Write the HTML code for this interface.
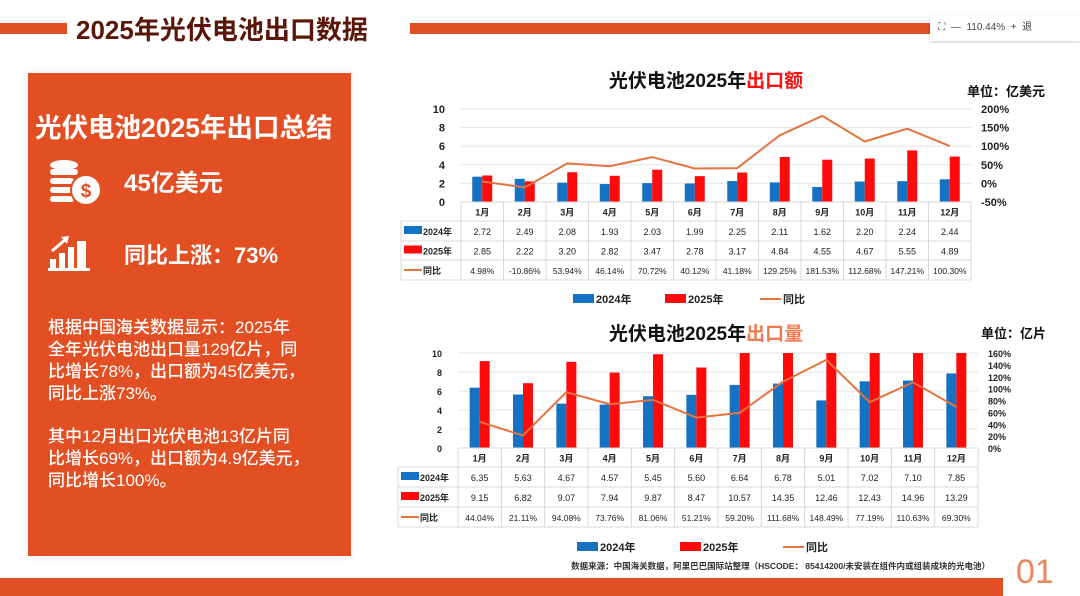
<!DOCTYPE html>
<html><head><meta charset="utf-8">
<style>
html,body{margin:0;padding:0;}
body{width:1080px;height:596px;position:relative;overflow:hidden;background:#fff;font-family:"Liberation Sans","Noto Sans CJK SC",sans-serif;}
.abs{position:absolute;}
.panel{left:28px;top:73px;width:323px;height:483px;background:#e24f23;color:#fff;box-shadow:0 0 14px rgba(0,0,0,0.08);}
.para{left:20px;font-size:17px;line-height:22px;font-weight:500;width:300px;white-space:nowrap;}
</style></head>
<body>
<div class="abs" style="left:0;top:23px;width:67px;height:11px;background:#e24f23"></div>
<div class="abs" style="left:76px;top:10px;font-size:26px;font-weight:bold;color:#5a1608;">2025年光伏电池出口数据</div>
<div class="abs" style="left:410px;top:23px;width:525px;height:11px;background:#e24f23"></div>
<div class="abs" style="left:930px;top:15px;width:150px;height:26px;background:#fff;box-shadow:0 1px 3px rgba(0,0,0,0.2);font-size:10px;color:#444;line-height:26px;">&nbsp;&nbsp;&nbsp;⛶ &nbsp;— &nbsp;110.44% &nbsp;+ &nbsp;退</div>

<div class="abs panel">
  <div class="abs" style="left:7px;top:33px;font-size:26.5px;font-weight:bold;white-space:nowrap;">光伏电池2025年出口总结</div>
  <svg class="abs" style="left:20px;top:86px" width="56" height="50" viewBox="0 0 56 50">
    <ellipse cx="16" cy="6" rx="14" ry="5" fill="#fff"/><rect x="2" y="10" width="28" height="6" rx="3" fill="#fff"/><rect x="2" y="19" width="24" height="6" rx="3" fill="#fff"/><rect x="2" y="28" width="22" height="6" rx="3" fill="#fff"/><rect x="2" y="37" width="24" height="6" rx="3" fill="#fff"/>
    <circle cx="38" cy="31" r="15" fill="#fff" stroke="#e24f23" stroke-width="2"/><text x="38" y="38" font-size="19" font-weight="bold" fill="#e24f23" text-anchor="middle">$</text>
  </svg>
  <div class="abs" style="left:96px;top:90px;font-size:24px;font-weight:bold;">45亿美元</div>
  <svg class="abs" style="left:20px;top:160px" width="44" height="38" viewBox="0 0 44 38">
    <rect x="2" y="26" width="6" height="10" fill="#fff"/><rect x="11" y="20" width="6" height="16" fill="#fff"/><rect x="20" y="14" width="6" height="22" fill="#fff"/><rect x="29" y="8" width="9" height="28" fill="#fff"/><rect x="0" y="35" width="42" height="3" fill="#fff"/>
    <path d="M4 18 L18 6" stroke="#fff" stroke-width="3"/><path d="M13 4 L21 3 L19 11 Z" fill="#fff"/>
  </svg>
  <div class="abs" style="left:96px;top:165px;font-size:22px;font-weight:bold;">同比上涨：73%</div>
  <div class="abs para" style="top:244px;">根据中国海关数据显示：2025年<br>全年光伏电池出口量129亿片，同<br>比增长78%，出口额为45亿美元，<br>同比上涨73%。</div>
  <div class="abs para" style="top:353px;">其中12月出口光伏电池13亿片同<br>比增长69%，出口额为4.9亿美元，<br>同比增长100%。</div>
</div>

<svg class="abs" id="charts" style="left:0;top:0" width="1080" height="596"></svg>

<div class="abs" style="left:1016px;top:553px;font-size:34px;color:#e8865e;font-weight:300;">01</div>
<div class="abs" style="left:0;top:578px;width:1003px;height:18px;background:#e24f23"></div>

<script>
const months = ["1月","2月","3月","4月","5月","6月","7月","8月","9月","10月","11月","12月"];
const value2024 = [2.72,2.49,2.08,1.93,2.03,1.99,2.25,2.11,1.62,2.20,2.24,2.44];
const value2025 = [2.85,2.22,3.20,2.82,3.47,2.78,3.17,4.84,4.55,4.67,5.55,4.89];
const valueYoY = [4.98,-10.86,53.94,46.14,70.72,40.12,41.18,129.25,181.53,112.68,147.21,100.30];
const leftTicksA = [0,2,4,6,8,10];
const rightTicksA = [-50,0,50,100,150,200];
const vol2024 = [6.35,5.63,4.67,4.57,5.45,5.60,6.64,6.78,5.01,7.02,7.10,7.85];
const vol2025 = [9.15,6.82,9.07,7.94,9.87,8.47,10.57,14.35,12.46,12.43,14.96,13.29];
const volYoY = [44.04,21.11,94.08,73.76,81.06,51.21,59.20,111.68,148.49,77.19,110.63,69.30];
const leftTicksB = [0,2,4,6,8,10];
const rightTicksB = [0,20,40,60,80,100,120,140,160];

const NS="http://www.w3.org/2000/svg";
const svg=document.getElementById('charts');
function mk(tag,attrs,parent){const e=document.createElementNS(NS,tag);for(const k in attrs)e.setAttribute(k,attrs[k]);(parent||svg).appendChild(e);return e;}
function txt(x,y,s,attrs,parent){const e=mk('text',Object.assign({x:x,y:y,'font-size':10,fill:'#222','font-family':'Liberation Sans, Noto Sans CJK SC, sans-serif'},attrs||{}),parent);e.textContent=s;return e;}
const BLUE='#1572c2',RED='#ff0a0a',LINE='#e4733f';

function drawChart(o){
  const g=mk('g',{});
  
  
  const n=o.cats.length,step=(o.x1-o.x0)/n;
  const xc=i=>o.x0+step*(i+0.5);
  const yL=v=>o.yb-(v-o.lmin)/(o.lmax-o.lmin)*(o.yb-o.yt);
  const yR=v=>o.yb-(v-o.rmin)/(o.rmax-o.rmin)*(o.yb-o.yt);
  const t=txt(o.titleX,o.titleY,o.title,{'font-size':19,'font-weight':'bold','text-anchor':'middle',fill:'#111'},g);
  const ts=document.createElementNS(NS,'tspan');ts.setAttribute('fill',o.hlColor);ts.textContent=o.hl;t.appendChild(ts);
  
  const u=txt(o.unitX,o.unitY,o.unit,{'font-size':13,'font-weight':'bold','text-anchor':'end',fill:'#111'},g);
  
  o.lt.forEach(v=>{const l=mk('line',{x1:o.x0,x2:o.x1,y1:yL(v),y2:yL(v),stroke:'#e6e6e6','stroke-width':1},g);
    
    const tl=txt(o.x0-16,yL(v)+4,String(v),{'font-size':o.tfs,'text-anchor':'end','font-weight':'bold'},g);
    });
  o.rt.forEach(v=>{const tl=txt(o.x1+10,yR(v)+4,v+'%',{'font-size':o.tfs,'font-weight':'bold'},g);
    });
  const bw=o.bw;
  for(let i=0;i<n;i++){
    const h1=Math.min(o.s1[i],o.lmax),h2=Math.min(o.s2[i],o.lmax);
    const b1=mk('rect',{x:xc(i)-bw,y:yL(h1),width:bw,height:yL(0)-yL(h1),fill:BLUE},g);
    
    const b2=mk('rect',{x:xc(i),y:yL(h2),width:bw,height:yL(0)-yL(h2),fill:RED},g);
    
  }
  const pts=o.s3.map((v,i)=>xc(i)+','+yR(v)).join(' ');
  const pl=mk('polyline',{points:pts,fill:'none',stroke:LINE,'stroke-width':2},g);
  
  const tl0=o.tx;
  const tb=mk('g',{},g);
  const rb=[o.yb].concat(o.rows);
  for(let r=0;r<rb.length;r++){mk('line',{x1:r===0?o.x0:tl0,x2:o.x1,y1:rb[r],y2:rb[r],stroke:'#d8d8d8'},tb);}
  for(let i=0;i<=n;i++){mk('line',{x1:o.x0+step*i,x2:o.x0+step*i,y1:o.yb,y2:rb[rb.length-1],stroke:'#d8d8d8'},tb);}
  mk('line',{x1:tl0,x2:tl0,y1:rb[1],y2:rb[rb.length-1],stroke:'#d8d8d8'},tb);
  const fs=o.cfs;
  for(let i=0;i<n;i++){
    const c=txt(xc(i),(rb[0]+rb[1])/2+4,o.cats[i],{'font-size':fs,'text-anchor':'middle','font-weight':'bold'},tb);
    
    const a=txt(xc(i),(rb[1]+rb[2])/2+4,o.s1[i].toFixed(2),{'font-size':fs,'text-anchor':'middle'},tb);
    
    const b=txt(xc(i),(rb[2]+rb[3])/2+4,o.s2[i].toFixed(2),{'font-size':fs,'text-anchor':'middle'},tb);
    
    const c2=txt(xc(i),(rb[3]+rb[4])/2+4,o.s3[i].toFixed(2)+'%',{'font-size':fs-0.5,'text-anchor':'middle'},tb);
    
  }
  const labs=[['2024年',BLUE,'rect'],['2025年',RED,'rect'],['同比',LINE,'line']];
  labs.forEach((L,k)=>{const ym=(rb[k+1]+rb[k+2])/2;
    if(L[2]==='rect')mk('rect',{x:tl0+3,y:ym-5,width:18,height:8,fill:L[1]},tb);else mk('line',{x1:tl0+3,x2:tl0+21,y1:ym,y2:ym,stroke:L[1],'stroke-width':2},tb);
    const s=txt(tl0+22,ym+4,L[0],{'font-size':fs,'font-weight':'bold'},tb);});
  const lg=mk('g',{},g);
  o.leg.forEach((lx,k)=>{const L=labs[k];
    if(L[2]==='rect')mk('rect',{x:lx,y:o.ly-5,width:21,height:9,fill:L[1]},lg);else mk('line',{x1:lx,x2:lx+21,y1:o.ly,y2:o.ly,stroke:L[1],'stroke-width':2},lg);
    const s=txt(lx+23,o.ly+4,L[0],{'font-size':11,'font-weight':'bold'},lg);});
}
drawChart({name:'export-value-chart',cats:months,s1:value2024,s2:value2025,s3:valueYoY,lt:leftTicksA,rt:rightTicksA,
  x0:461,x1:971,yt:109,yb:202,lmin:0,lmax:10,rmin:-50,rmax:200,bw:10,tfs:11,cfs:9,
  title:'光伏电池2025年',hl:'出口额',hlColor:'#ff1010',titleX:706,titleY:87,unit:'单位：亿美元',unitX:1045,unitY:96,
  tx:401,rows:[221,241,260,280],leg:[573,665,760],ly:299});
drawChart({name:'export-volume-chart',cats:months,s1:vol2024,s2:vol2025,s3:volYoY,lt:leftTicksB,rt:rightTicksB,
  x0:458,x1:978,yt:353,yb:448,lmin:0,lmax:10,rmin:0,rmax:160,bw:10,tfs:9,cfs:9,
  title:'光伏电池2025年',hl:'出口量',hlColor:'#f07b50',titleX:706,titleY:340,unit:'单位：亿片',unitX:1046,unitY:338,
  tx:398,rows:[467,487,507,527],leg:[577,680,783],ly:547});
const src=txt(990,569,'数据来源：中国海关数据，阿里巴巴国际站整理（HSCODE： 85414200/未安装在组件内或组装成块的光电池）',{'font-size':8.5,'text-anchor':'end','font-weight':'bold',fill:'#333'});


</script>
</body></html>
